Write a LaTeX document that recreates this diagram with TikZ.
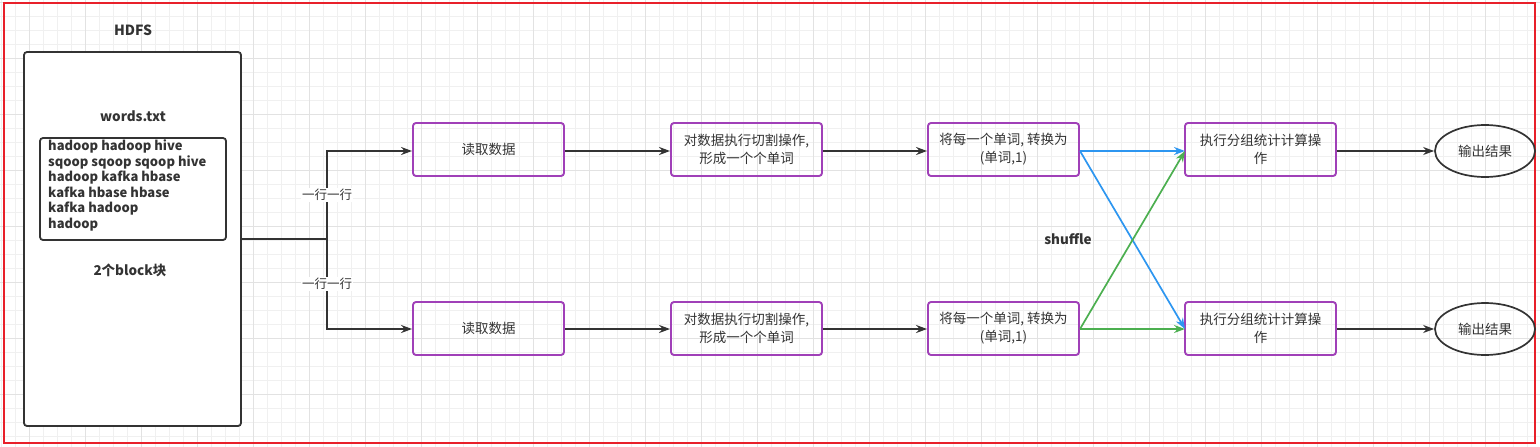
\documentclass[tikz,border=0pt]{standalone}
\usepackage{fontspec}
\setmainfont{Noto Sans CJK SC}
\usetikzlibrary{arrows.meta,shapes.geometric}
\definecolor{ink}{HTML}{333333}
\definecolor{purp}{HTML}{A040B8}
\definecolor{blu}{HTML}{2D96F0}
\definecolor{grn}{HTML}{4CAF50}
\definecolor{gridminor}{HTML}{F0F0F0}
\definecolor{gridmajor}{HTML}{E2E2E2}
\definecolor{frame}{HTML}{E8202A}
\tikzset{
  stepbox/.style={draw=purp, line width=1.9pt, rounded corners=3pt, minimum width=151pt, minimum height=53pt, align=center, text=ink, font=\fontsize{13.5}{18}\selectfont, inner sep=0pt},
  outnode/.style={draw=ink, line width=1.7pt, ellipse, minimum width=100pt, minimum height=52pt, text=ink, font=\fontsize{13.5}{18}\selectfont, inner sep=0pt},
  conn/.style={draw=ink, line width=1.8pt, -{Stealth[length=11pt,width=8pt]}},
  plain/.style={draw=ink, line width=1.8pt},
  bluconn/.style={draw=blu, line width=1.7pt, -{Stealth[length=11pt,width=8pt]}},
  grnconn/.style={draw=grn, line width=1.7pt, -{Stealth[length=11pt,width=8pt]}},
  boldlabel/.style={text=ink, font=\bfseries\fontsize{13.5}{16}\selectfont, inner sep=1pt},
  smalllabel/.style={text=ink, fill=white, font=\fontsize{12.5}{14}\selectfont, inner sep=1pt},
}
\begin{document}
\begin{tikzpicture}[x=1pt,y=-1pt]
\useasboundingbox (0,0) rectangle (1540,447);
% grid
\foreach \gx in {1.3,15.3,...,1540} \draw[gridminor, line width=0.9pt] (\gx,0) -- (\gx,447);
\foreach \gy in {2,16,...,447} \draw[gridminor, line width=0.9pt] (0,\gy) -- (1540,\gy);
\foreach \gx in {29.3,85.3,...,1540} \draw[gridmajor, line width=0.9pt] (\gx,0) -- (\gx,447);
\foreach \gy in {2,58,...,447} \draw[gridmajor, line width=0.9pt] (0,\gy) -- (1540,\gy);
% frame
\draw[frame, line width=1.8pt] (4,3) rectangle (1535,443);

% HDFS block
\node[draw=ink, line width=1.8pt, rounded corners=3pt, fill=white, minimum width=217pt, minimum height=374pt, inner sep=0pt] (hdfs) at (132.5,239) {};
\node[boldlabel, font=\bfseries\fontsize{14}{16}\selectfont] (hdfstitle) at (133,30) {HDFS};
\node[boldlabel] (words) at (133,116) {words.txt};
\node[draw=ink, line width=1.8pt, rounded corners=3pt, minimum width=186pt, minimum height=102pt, inner sep=0pt] (file) at (133,189) {};
\node[anchor=north west, align=left, text=ink, font=\bfseries\fontsize{13}{15.6}\selectfont, inner sep=0pt] (lines) at (48,139.5) {hadoop hadoop hive\\sqoop sqoop sqoop hive\\hadoop kafka hbase\\kafka hbase hbase\\kafka hadoop\\hadoop};
\node[boldlabel] (blocks) at (130,270) {2个block块};

% pipeline nodes
\node[stepbox] (r1) at (488.5,149.5) {读取数据};
\node[stepbox] (s1) at (746.5,149.5) {对数据执行切割操作,\\形成一个个单词};
\node[stepbox] (m1) at (1003.5,149.5) {将每一个单词, 转换为\\(单词,1)};
\node[stepbox] (g1) at (1260.5,149.5) {执行分组统计计算操\\作};
\node[outnode] (o1) at (1485,151) {输出结果};

\node[stepbox] (r2) at (488.5,328.5) {读取数据};
\node[stepbox] (s2) at (746.5,328.5) {对数据执行切割操作,\\形成一个个单词};
\node[stepbox] (m2) at (1003.5,328.5) {将每一个单词, 转换为\\(单词,1)};
\node[stepbox] (g2) at (1260.5,328.5) {执行分组统计计算操\\作};
\node[outnode] (o2) at (1485,329) {输出结果};

% splitter
\coordinate (j) at (327,239);
\coordinate (ju) at (327,151);
\coordinate (jd) at (327,329);
\draw[plain] (hdfs.east) -- (j);
\draw[conn] (j) -- (ju) -- (r1.west |- ju);
\draw[conn] (j) -- (jd) -- (r2.west |- jd);
\node[smalllabel] (lab1) at (327,195) {一行一行};
\node[smalllabel] (lab2) at (327,284) {一行一行};

% rows
\draw[conn] (r1.east |- ju) -- (s1.west |- ju);
\draw[conn] (s1.east |- ju) -- (m1.west |- ju);
\draw[conn] (r2.east |- jd) -- (s2.west |- jd);
\draw[conn] (s2.east |- jd) -- (m2.west |- jd);
\draw[conn] (g1.east |- o1) -- (o1.west);
\draw[conn] (g2.east |- o2) -- (o2.west);

% shuffle
\coordinate (m1o) at (1080,151);
\coordinate (m2o) at (1080,329);
\coordinate (g1i) at (1185,151);
\coordinate (g2i) at (1185,329);
\draw[bluconn] (m1o) -- (g1i);
\draw[bluconn] (m1o) -- (g2i);
\draw[grnconn] (m2o) -- (g1i);
\draw[grnconn] (m2o) -- (g2i);
\node[boldlabel] (shuf) at (1068,239) {shuffle};
\end{tikzpicture}
\end{document}
